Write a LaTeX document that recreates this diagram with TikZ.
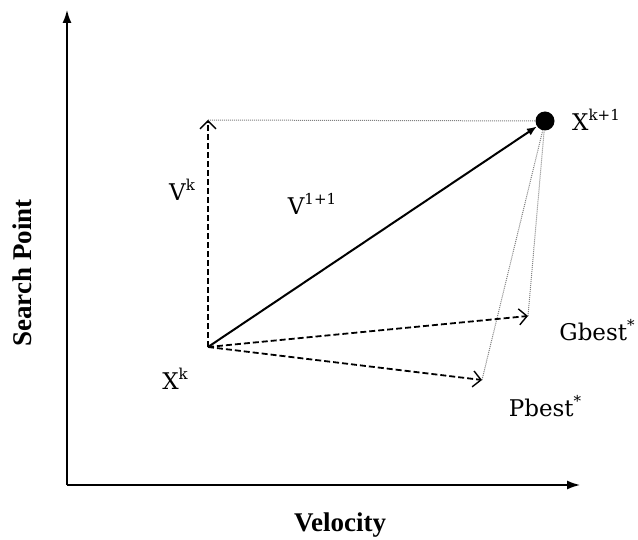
\documentclass[tikz,border=0pt]{standalone}
\usepackage{fontspec}
\setmainfont{Liberation Serif}
\newfontfamily\labelfont{DejaVu Serif}
\usetikzlibrary{arrows.meta}
\newcommand{\upidx}[1]{\raisebox{0.45em}{\fontsize{15}{16}\selectfont #1}}
\tikzset{
  axisline/.style={line width=1.5pt,-{Latex[length=13pt,width=9pt]}},
  velarrow/.style={line width=1.8pt,dash pattern=on 6pt off 3pt,
    -{Straight Barb[length=8pt,width=16pt,line width=1.4pt]}},
  resarrow/.style={line width=2pt,-{Latex[length=10pt,width=8pt]}},
  guide/.style={gray,line width=1pt,densely dotted},
  ptlabel/.style={font=\labelfont\fontsize{23}{26}\selectfont,inner sep=0pt},
  axislabel/.style={font=\fontsize{27}{30}\selectfont\bfseries,inner sep=0pt},
}
\begin{document}
\begin{tikzpicture}[x=1pt,y=-1pt]
  \useasboundingbox (0,0) rectangle (638,540);
  % axes
  \coordinate (origin) at (67,485);
  \coordinate (ytop) at (67,10);
  \coordinate (xend) at (580,485);
  \draw[axisline] (origin) -- (ytop);
  \draw[axisline] (origin) -- (xend);
  \node[axislabel,rotate=90] (ylab) at (22,273) {Search Point};
  \node[axislabel] (xlab) at (340,525) {Velocity};
  % points
  \coordinate (xk) at (208,347);
  \coordinate (vk) at (208,120);
  \coordinate (gb) at (528,316);
  \coordinate (pb) at (482,380);
  \node[circle,fill=black,minimum size=19pt,inner sep=0pt] (xnext) at (545,121) {};
  % guides
  \draw[guide] (vk) -- (xnext);
  \draw[guide] (gb) -- (xnext);
  \draw[guide] (pb) -- (xnext);
  % velocity components
  \draw[velarrow] (xk) -- (vk);
  \draw[velarrow] (xk) -- (gb);
  \draw[velarrow] (xk) -- (pb);
  \draw[resarrow] (xk) -- (xnext);
  % labels
  \node[ptlabel] (lxnext) at (596,120) {X\upidx{k+1}};
  \node[ptlabel] (lvk) at (182,190) {V\upidx{k}};
  \node[ptlabel] (lvnext) at (312,204) {V\upidx{1+1}};
  \node[ptlabel] (lgb) at (597,330) {Gbest\upidx{*}};
  \node[ptlabel] (lxk) at (175,379) {X\upidx{k}};
  \node[ptlabel] (lpb) at (545,406) {Pbest\upidx{*}};
\end{tikzpicture}
\end{document}
